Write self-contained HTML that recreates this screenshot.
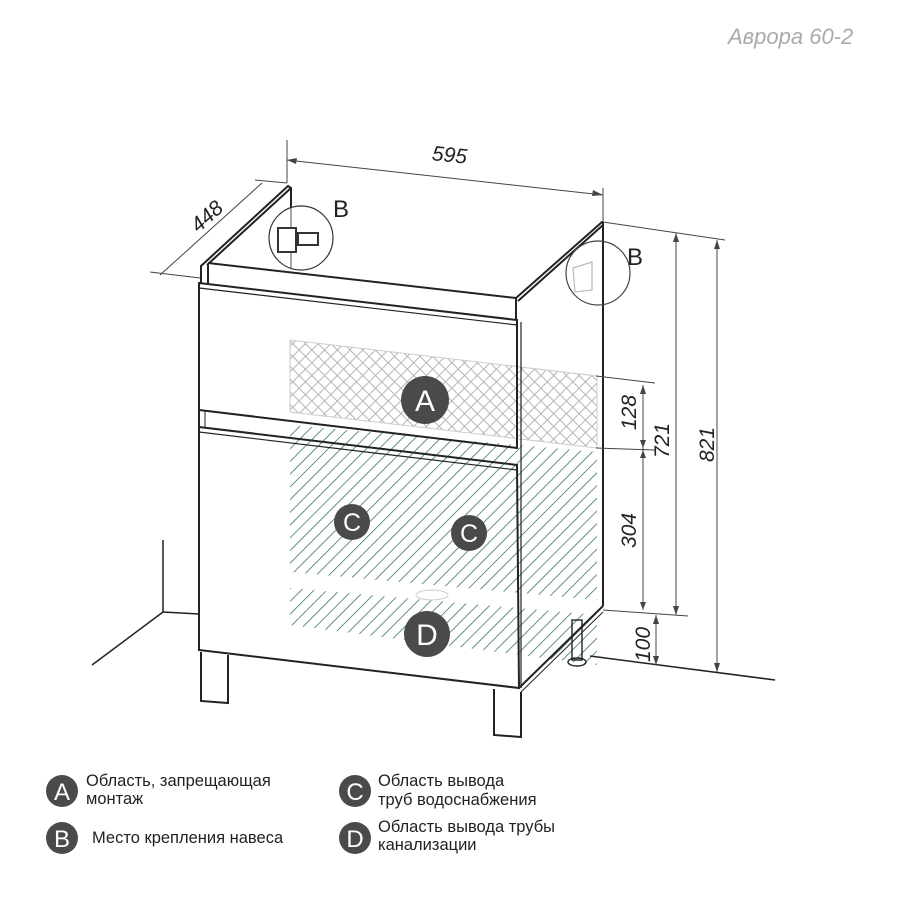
<!DOCTYPE html>
<html><head><meta charset="utf-8"><style>
html,body{margin:0;padding:0;background:#fff;width:900px;height:900px;overflow:hidden}
svg{display:block}
text{font-family:"Liberation Sans","DejaVu Sans",sans-serif}
</style></head><body>
<svg width="900" height="900" viewBox="0 0 900 900" xmlns="http://www.w3.org/2000/svg">
<defs>
<pattern id="hatch" patternUnits="userSpaceOnUse" width="9" height="9" patternTransform="rotate(45)">
<line x1="0" y1="0" x2="0" y2="9" stroke="#2f6e55" stroke-width="1.5"/>
</pattern>
<pattern id="cross" patternUnits="userSpaceOnUse" width="9" height="9" patternTransform="rotate(45)">
<rect width="9" height="9" fill="none" stroke="#b5b5b5" stroke-width="1"/>
</pattern>
</defs>

<text x="728" y="44" font-size="22" fill="#aaa" font-style="italic">Аврора 60-2</text>

<!-- hatch regions -->
<polygon points="290,340 597,376 597,448 290,412" fill="url(#cross)" stroke="#ccc" stroke-width="1"/>
<polygon points="290,425 597,452 597,600 290,572" fill="url(#hatch)"/>
<polygon points="290,588 597,615 597,665 290,625" fill="url(#hatch)"/>

<g stroke="#222" fill="none" stroke-width="2">
<polyline points="201,283 201,266 288,186 291,188 291,268"/>
<line x1="207" y1="265" x2="291" y2="188"/>
<polyline points="208,265 208,283"/>
<line x1="208" y1="263" x2="516" y2="298"/>
<polyline points="516,298 602,222 603,222"/>
<line x1="518" y1="301" x2="603" y2="225"/>
<line x1="603" y1="222" x2="603" y2="606"/>
<line x1="516" y1="298" x2="516" y2="320"/>
<polygon points="199,283 517,320 517,448 199,410"/>
<line x1="199" y1="288" x2="517" y2="325" stroke-width="1.2"/>
<line x1="199" y1="410" x2="199" y2="427"/>
<line x1="205" y1="411" x2="205" y2="428" stroke-width="1"/>
<polygon points="199,427 517,465 519,688 199,650"/>
<line x1="199" y1="432" x2="517" y2="470" stroke-width="1.2"/>
<line x1="521" y1="322" x2="521" y2="688" stroke-width="1.2"/>
<line x1="519" y1="688" x2="603" y2="606"/>
<line x1="521" y1="692" x2="603" y2="612" stroke-width="1"/>
<polyline points="201,652 201,701 228,703 228,655"/>
<polyline points="494,689 494,735 521,737 521,692"/>
<rect x="572" y="620" width="10" height="40" stroke-width="1.4"/>
<ellipse cx="577" cy="662" rx="9" ry="4" stroke-width="1.4"/>
<line x1="163" y1="540" x2="163" y2="612" stroke-width="1.5"/>
<line x1="163" y1="612" x2="92" y2="665" stroke-width="1.5"/>
<line x1="163" y1="612" x2="199" y2="614" stroke-width="1.5"/>
<line x1="590" y1="656" x2="775" y2="680" stroke-width="1.5"/>
</g>

<g stroke="#333" fill="none" stroke-width="1.2">
<circle cx="301" cy="238" r="32" fill="rgba(255,255,255,0.6)"/>
<rect x="278" y="228" width="18" height="24" fill="#fff" stroke-width="2"/>
<rect x="298" y="233" width="20" height="12" fill="#fff" stroke-width="2"/>
<circle cx="598" cy="273" r="32" stroke="#444"/>
<path d="M573,268 L592,262 L592,290 L575,292 Z" stroke="#bbb"/>
</g>
<text x="333" y="217" font-size="24" fill="#222">B</text>
<text x="627" y="265" font-size="24" fill="#222">B</text>

<g stroke="#444" stroke-width="1" fill="#444">
<line x1="287" y1="183" x2="287" y2="140"/>
<line x1="603" y1="222" x2="603" y2="188"/>
<line x1="287" y1="160" x2="603" y2="195"/>
<line x1="160" y1="275" x2="262" y2="183"/>
<line x1="150" y1="272" x2="200" y2="278"/>
<line x1="255" y1="180" x2="287" y2="183"/>
<line x1="603" y1="222" x2="725" y2="240"/>
<line x1="596" y1="376" x2="655" y2="383"/>
<line x1="596" y1="448" x2="655" y2="450"/>
<line x1="603" y1="610" x2="688" y2="616"/>
<line x1="643" y1="385" x2="643" y2="610"/>
<line x1="676" y1="233" x2="676" y2="615"/>
<line x1="717" y1="240" x2="717" y2="672"/>
<line x1="656" y1="615" x2="656" y2="665"/>
</g>
<g fill="#444">
<polygon points="603,195 593,190 592,196"/>
<polygon points="287,160 297,158 296,164"/>
<polygon points="643,385 640,394 646,394"/><polygon points="643,448 640,440 646,440"/>
<polygon points="643,450 640,458 646,458"/><polygon points="643,610 640,602 646,602"/>
<polygon points="676,233 673,242 679,242"/><polygon points="676,615 673,606 679,606"/>
<polygon points="717,240 714,249 720,249"/><polygon points="717,672 714,663 720,663"/>
<polygon points="656,615 653,624 659,624"/><polygon points="656,665 653,656 659,656"/>
</g>
<g font-size="21" fill="#222" font-style="italic">
<text x="432" y="162" transform="rotate(6 450 155)">595</text>
<text x="190" y="225" transform="rotate(-42 205 218)">448</text>
<text transform="translate(636,430) rotate(-90)">128</text>
<text transform="translate(636,548) rotate(-90)">304</text>
<text transform="translate(669,458) rotate(-90)">721</text>
<text transform="translate(714,462) rotate(-90)">821</text>
<text transform="translate(650,662) rotate(-90)">100</text>
</g>

<ellipse cx="432" cy="595" rx="16" ry="5" fill="none" stroke="#ccc"/>
<g fill="#4a4a4a">
<circle cx="425" cy="400" r="24"/>
<circle cx="352" cy="522" r="18"/>
<circle cx="469" cy="533" r="18"/>
<circle cx="427" cy="634" r="23"/>
<circle cx="62" cy="791" r="16"/>
<circle cx="62" cy="838" r="16"/>
<circle cx="355" cy="791" r="16"/>
<circle cx="355" cy="838" r="16"/>
</g>
<g fill="#fff" text-anchor="middle">
<text x="425" y="411" font-size="30">A</text>
<text x="352" y="531" font-size="25">C</text>
<text x="469" y="542" font-size="25">C</text>
<text x="427" y="645" font-size="30">D</text>
<text x="62" y="800" font-size="24">A</text>
<text x="62" y="847" font-size="24">B</text>
<text x="355" y="800" font-size="24">C</text>
<text x="355" y="847" font-size="24">D</text>
</g>
<g font-size="16.5" fill="#222">
<text x="86" y="786">Область, запрещающая</text>
<text x="86" y="804">монтаж</text>
<text x="92" y="843">Место крепления навеса</text>
<text x="378" y="786">Область вывода</text>
<text x="378" y="805">труб водоснабжения</text>
<text x="378" y="832">Область вывода трубы</text>
<text x="378" y="850">канализации</text>
</g>
</svg>
</body></html>
